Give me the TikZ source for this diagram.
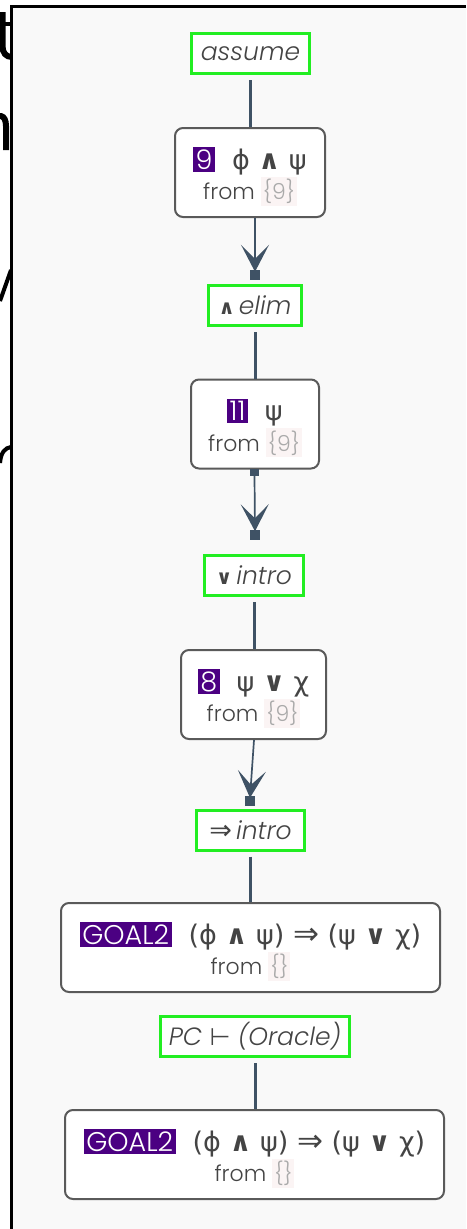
\documentclass[tikz,border=0pt]{standalone}
\usepackage{fontspec}
\setmainfont{Poppins}[UprightFont=* Light, ItalicFont=* Light Italic]
\newfontfamily\symf{DejaVu Sans}
\usetikzlibrary{arrows.meta}
\definecolor{panel}{HTML}{F9F9F9}
\definecolor{rulegreen}{HTML}{22EE22}
\definecolor{edgec}{HTML}{3F5265}
\definecolor{boxc}{HTML}{5A5A5A}
\definecolor{txtc}{HTML}{444444}
\definecolor{badgec}{HTML}{4B0082}
\definecolor{refbg}{HTML}{FBF4F4}
\definecolor{refc}{HTML}{AAAAAA}
\newcommand{\mybadge}[1]{{\setlength{\fboxsep}{2.5pt}\colorbox{badgec}{\textcolor{white}{#1}}}}
\newcommand{\myrefs}[1]{{\setlength{\fboxsep}{2pt}\colorbox{refbg}{\textcolor{refc}{#1}}}}
\newcommand{\op}[1]{{\bfseries #1}}
\newcommand{\imp}{{\fontsize{31}{30}\selectfont ⇒}}
\newcommand{\fline}[2]{\rule{0pt}{30pt}{\fontsize{27}{30}\selectfont\mybadge{#1}\hspace{17pt}{\symf\fontsize{27}{30}\selectfont #2}}}
\newcommand{\fromline}[1]{{\fontsize{22}{24}\selectfont from \myrefs{#1}}}
\tikzset{
  rulebox/.style={draw=rulegreen, line width=3pt, fill=white, text=txtc,
    font=\fontsize{25}{28}\selectfont\itshape, inner sep=0pt, minimum height=40pt},
  fbox/.style={draw=boxc, line width=2pt, fill=white, rounded corners=8pt, text=txtc,
    inner sep=0pt, minimum height=89pt, align=center},
  sqnode/.style={fill=edgec, inner sep=0pt, minimum width=10pt, minimum height=10pt},
  thickedge/.style={draw=edgec, line width=3pt, shorten <=5pt},
  thinedge/.style={draw=edgec, line width=1.7pt, -{Stealth[length=27pt,width=28pt,inset=14pt]}},
}
\begin{document}
\begin{tikzpicture}[x=1pt,y=-1pt]
\useasboundingbox (0,0) rectangle (466,1229);
\fill[white] (0,0) rectangle (466,1229);
\fill[panel] (11,6.5) rectangle (466,1229);
% clipped fragments at the left edge
\begin{scope}
\clip (0,0) rectangle (10,1229);
\draw[line width=6pt] (2.5,12) -- (2.5,46) .. controls (2.5,53) and (6,57) .. (12,57);
\draw[line width=4.5pt] (-6,24) -- (12,24);
\draw[line width=6pt] (-8,122) .. controls (-2,113) and (6,114) .. (6,126) -- (6,150);
\draw[line width=4pt] (0,301) -- (11,270);
\draw[line width=4pt] (0,463) .. controls (1,452) and (5,448) .. (11,447);
\end{scope}
\draw[line width=3pt] (11,1229) -- (11,6.5) -- (466,6.5);

% rule nodes
\node[rulebox, minimum width=118pt] (assume) at (250.5,53.5) {assume};
\node[rulebox, minimum width=93pt] (andelim) at (255,305.5) {{\symf\upshape\bfseries\fontsize{20}{20}\selectfont ∧}\,elim};
\node[rulebox, minimum width=99pt] (orintro) at (254,575.5) {{\symf\upshape\bfseries\fontsize{20}{20}\selectfont ∨}\,intro};
\node[rulebox, minimum width=108pt] (impintro) at (250.5,830) {{\symf\upshape\fontsize{27}{22}\selectfont ⇒}\,intro};
\node[rulebox, minimum width=189pt] (pc) at (255,1036.5) {PC {\symf\upshape\fontsize{24}{22}\selectfont ⊢} (Oracle)};

% formula nodes
\node[fbox, minimum width=150pt] (b9) at (250,172.5) {\fline{9}{ϕ \op{∧} ψ}\\[1pt]\fromline{\{9\}}};
\node[fbox, minimum width=128pt] (b11) at (255,424) {\fline{11}{ψ}\\[1pt]\fromline{\{9\}}};
\node[fbox, minimum width=145pt] (b8) at (253.5,694.5) {\fline{8}{ψ \op{∨} χ}\\[1pt]\fromline{\{9\}}};
\node[fbox, minimum width=379pt] (g1) at (250.5,947.5) {\fline{GOAL2}{(ϕ \op{∧} ψ) \imp{} (ψ \op{∨} χ)}\\[1pt]\fromline{\{\}}};
\node[fbox, minimum width=379pt] (g2) at (254.5,1154.5) {\fline{GOAL2}{(ϕ \op{∧} ψ) \imp{} (ψ \op{∨} χ)}\\[1pt]\fromline{\{\}}};

% small squares
\node[sqnode] (sq1) at (255,275) {};
\node[sqnode, minimum width=9pt, minimum height=7pt] (sq2a) at (254.5,472.5) {};
\node[sqnode] (sq2) at (255,534.5) {};
\node[sqnode] (sq3) at (250,801) {};

% connectors
\draw[thickedge] (assume.south) -- (assume.south |- b9.north);
\draw[thinedge] (sq1.north |- b9.south) -- ([yshift=-2pt]sq1.north);
\draw[thickedge] (andelim.south) -- (andelim.south |- b11.north);
\draw[thinedge] (sq2a.south) -- ([yshift=-2pt]sq2.north);
\draw[thickedge] (orintro.south) -- (orintro.south |- b8.north);
\draw[thinedge] ([xshift=0.5pt]b8.south) -- ([yshift=-2pt]sq3.north);
\draw[thickedge] (impintro.south) -- (impintro.south |- g1.north);
\draw[thickedge] (pc.south) -- (pc.south |- g2.north);
\end{tikzpicture}
\end{document}
